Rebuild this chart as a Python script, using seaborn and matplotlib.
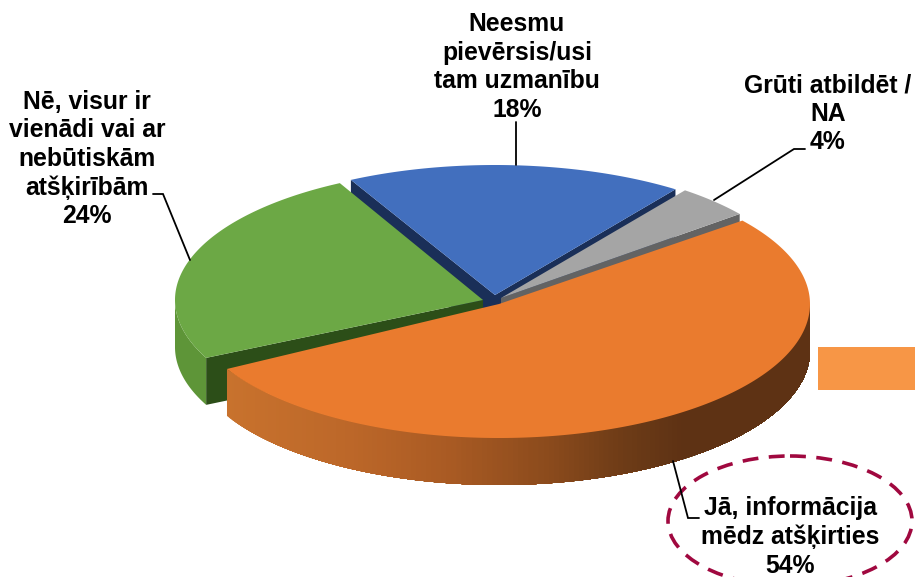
import numpy as np
import matplotlib
matplotlib.use('Agg')
import matplotlib.pyplot as plt
from matplotlib.colors import to_rgb
from matplotlib.patches import Ellipse, Rectangle
import seaborn as sns

labels = ['Jā, informācija\nmēdz atšķirties', 'Nē, visur ir\nvienādi vai ar\nnebūtiskām\natšķirībām',
          'Neesmu\npievērsis/usi\ntam uzmanību', 'Grūti atbildēt /\nNA']
values = [54, 24, 18, 4]
top_colors = sns.color_palette(['#EA7B2E', '#6CA845', '#426FBE', '#A5A5A5'])
cut_colors = sns.color_palette(['#5E3214', '#2C4E18', '#1A2F58', '#636363'])

sns.set_style('white')
plt.rcParams['font.family'] = ['Liberation Sans', 'DejaVu Sans']

fig = plt.figure(figsize=(9.15, 5.77), dpi=100)
ax = fig.add_axes([0, 0, 1, 1])
ax.set_xlim(0, 915)
ax.set_ylim(577, 0)
ax.axis('off')

# pie geometry, in pixels
start_angle = 38.5
depth = 47
centers = [(499, 304), (483, 300), (495, 295), (501, 298)]
radii = [(311, 134), (308, 132), (310, 130), (305, 135)]

# slice angles come from the values, trims stand in for the 3D perspective
edges = start_angle - np.cumsum([0] + values) * 3.6
starts = edges[:-1] + np.array([0, 1.9, 0, 0])
ends = edges[1:] + np.array([4.9, 0, 1.5, 0])


def arc(i, a, b, n=200):
    t = np.radians(np.linspace(a, b, n))
    cx, cy = centers[i]
    rx, ry = radii[i]
    return cx + rx * np.cos(t), cy - ry * np.sin(t)


def cut_face(i, angle):
    x, y = arc(i, angle, angle, 1)
    cx, cy = centers[i]
    ax.fill([cx, x[0], x[0], cx], [cy, y[0], y[0] + depth, cy + depth],
            color=cut_colors[i], lw=0)


def top_face(i):
    x, y = arc(i, starts[i], ends[i])
    ax.fill(np.r_[centers[i][0], x], np.r_[centers[i][1], y], color=top_colors[i], lw=0)


def side(i, a, b, color):
    x, y = arc(i, a, b)
    ax.fill(np.r_[x, x[::-1]], np.r_[y, y[::-1] + depth], color=color, lw=0)


# blue slice at the back
cut_face(2, ends[2])
cut_face(2, starts[2])
top_face(2)

# grey slice
cut_face(3, ends[3])
top_face(3)

# green slice
side(1, -180, starts[1], '#5E9538')
cut_face(1, starts[1])
top_face(1)

# orange slice, its rim darkens to the right
stops_x = [227, 350, 450, 550, 620, 680, 811]
stops_c = np.array([to_rgb(c) for c in ['#C8722D', '#BC6729', '#A85A23', '#8A4A1C',
                                        '#6E3C17', '#5E3214', '#5E3214']])
steps = np.linspace(ends[0], 0, 160)
for a in steps[:-1]:
    step_x = arc(0, a, a, 1)[0][0]
    c = [np.interp(step_x, stops_x, stops_c[:, k]) for k in range(3)]
    side(0, a, 0, c)
top_face(0)

# leader lines
line_kw = dict(color='black', lw=1.3, solid_joinstyle='miter')
ax.plot([673, 688, 699], [461, 518, 518], **line_kw)
ax.plot([190, 163, 153], [260, 194, 194], **line_kw)
ax.plot([516, 516], [122, 165], **line_kw)
ax.plot([714, 794, 805], [200, 149, 149], **line_kw)

# data labels
label_xy = [(790, 537), (87, 159), (517, 67), (828, 114)]
for txt, v, (lx, ly) in zip(labels, values, label_xy):
    ax.text(lx, ly, f'{txt}\n{v}%', ha='center', va='center', fontsize=17.8,
            fontweight='bold', color='black', linespacing=1.23)

# overlays on the slide
ax.add_patch(Rectangle((818, 347), 97, 43, facecolor='#F79646', edgecolor='none'))
ax.add_patch(Ellipse((790, 521), 244, 130, fill=False, edgecolor='#A0083F', lw=2.6,
                     linestyle=(0, (4.4, 2.9))))

fig.savefig('out.png', dpi=100)
